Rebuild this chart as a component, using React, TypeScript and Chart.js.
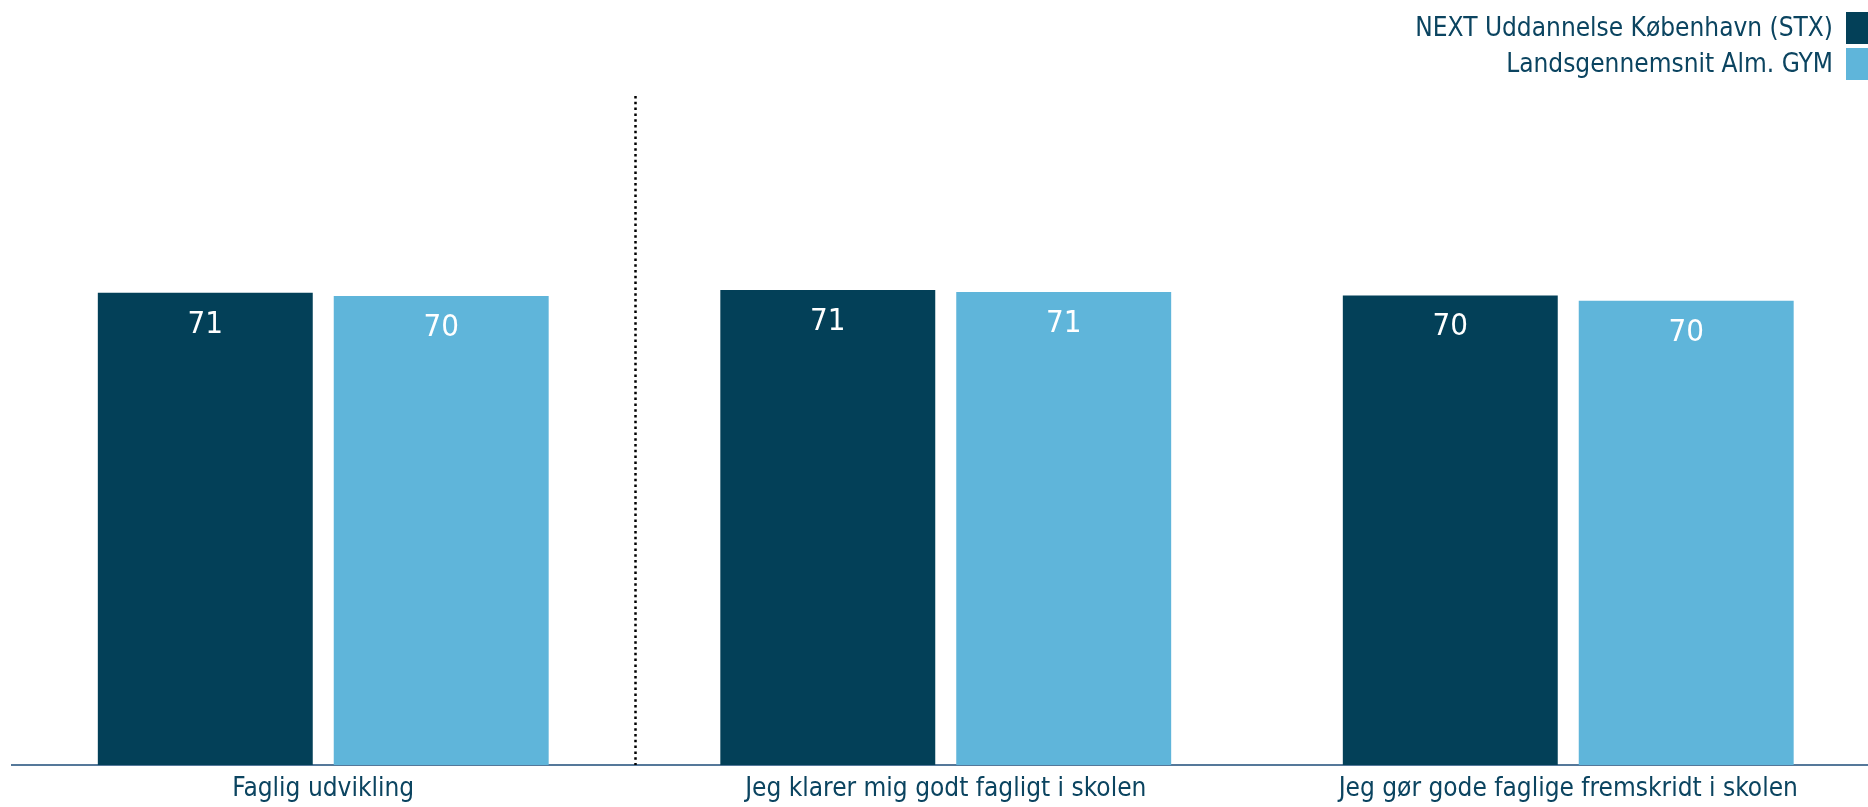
import React, { useEffect, useRef } from "react";
import { Chart, registerables } from "chart.js";

Chart.register(...registerables);

const categories = [
  "Faglig udvikling",
  "Jeg klarer mig godt fagligt i skolen",
  "Jeg gør gode faglige fremskridt i skolen",
];
const seriesNames = ["NEXT Uddannelse København (STX)", "Landsgennemsnit Alm. GYM"];
const nextValues = [70.8, 71.2, 70.4];
const landsValues = [70.3, 70.9, 69.6];
const yMin = 0;
const yMax = 100;

const DARK = "#034058";
const LIGHT = "#5fb5da";
const TEXT = "#0b4460";
const AXIS = "#55789a";
const FONT = "'DejaVu Sans Condensed', 'DejaVu Sans', sans-serif";

const CANVAS_W = 1880;
const CANVAS_H = 807;

const extrasPlugin = {
  id: "extras",
  afterDraw(chart: any) {
    const ctx = chart.ctx;
    const area = chart.chartArea;
    const x = chart.scales.x;
    // dotted separator between first and second category
    const sepX = (x.getPixelForValue(0) + x.getPixelForValue(1)) / 2;
    ctx.save();
    ctx.strokeStyle = "#000000";
    ctx.lineWidth = 2.5;
    ctx.setLineDash([2.5, 3.3]);
    ctx.beginPath();
    ctx.moveTo(Math.round(sepX) + 0.5, area.top - 2);
    ctx.lineTo(Math.round(sepX) + 0.5, area.bottom);
    ctx.stroke();
    ctx.restore();

    // value labels inside bars
    ctx.save();
    ctx.fillStyle = "#ffffff";
    ctx.font = `31px ${FONT}`;
    ctx.textAlign = "center";
    ctx.textBaseline = "middle";
    chart.data.datasets.forEach((ds: any, di: number) => {
      const meta = chart.getDatasetMeta(di);
      meta.data.forEach((bar: any, i: number) => {
        ctx.fillText(String(Math.round(ds.data[i])), bar.x, bar.y + 32);
      });
    });
    ctx.restore();

    // legend (top right, text left of box)
    ctx.save();
    ctx.font = `26px ${FONT}`;
    ctx.textAlign = "right";
    ctx.textBaseline = "middle";
    const boxSize = 32;
    const boxLeft = 1846;
    chart.data.datasets.forEach((ds: any, di: number) => {
      const top = 12 + di * 36;
      ctx.fillStyle = ds.backgroundColor;
      ctx.fillRect(boxLeft, top, boxSize, boxSize);
      ctx.fillStyle = TEXT;
      ctx.fillText(ds.label, boxLeft - 13, top + boxSize / 2 + 1);
    });
    ctx.restore();
  },
};

export default function App() {
  const ref = useRef<HTMLCanvasElement>(null);
  useEffect(() => {
    if (!ref.current) return;
    const chart = new Chart(ref.current, {
      type: "bar",
      data: {
        labels: categories,
        datasets: [
          {
            label: seriesNames[0],
            data: nextValues,
            backgroundColor: DARK,
            categoryPercentage: 0.758,
            barPercentage: 0.911,
          },
          {
            label: seriesNames[1],
            data: landsValues,
            backgroundColor: LIGHT,
            categoryPercentage: 0.758,
            barPercentage: 0.911,
          },
        ],
      },
      options: {
        responsive: false,
        animation: false,
        devicePixelRatio: 1,
        layout: { padding: { left: 12, right: 0.5, top: 98, bottom: 0 } },
        plugins: {
          legend: { display: false },
          tooltip: { enabled: false },
        },
        scales: {
          x: {
            offset: true,
            grid: { display: false, drawTicks: false },
            border: { display: true, color: AXIS, width: 2 },
            ticks: {
              color: TEXT,
              font: { family: FONT, size: 26 },
              padding: 9,
              maxRotation: 0,
              autoSkip: false,
            },
            afterFit: (scale: any) => {
              scale.height = 42;
            },
          },
          y: {
            display: false,
            min: yMin,
            max: yMax,
          },
        },
      },
      plugins: [extrasPlugin],
    });
    return () => chart.destroy();
  }, []);
  return (
    <div style={{ position: "absolute", left: 0, top: 0, width: 1868, height: 807, overflow: "hidden", background: "#ffffff" }}>
      <canvas
        ref={ref}
        width={CANVAS_W}
        height={CANVAS_H}
        style={{ display: "block", width: CANVAS_W, height: CANVAS_H }}
      />
    </div>
  );
}
